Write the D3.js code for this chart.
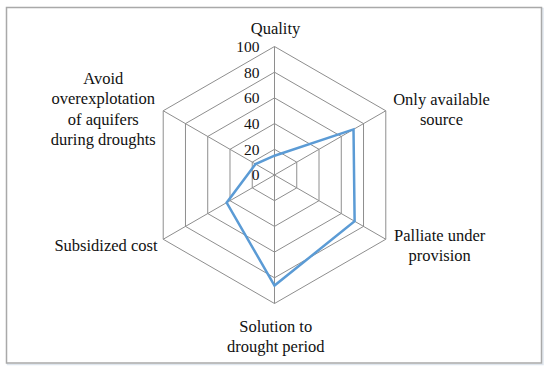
<!DOCTYPE html>
<html>
<head>
<meta charset="utf-8">
<script src="https://cdn.jsdelivr.net/npm/d3@7"></script>
<style>
  html, body { margin: 0; padding: 0; background: #fff; }
  svg { display: block; }
</style>
</head>
<body>
<svg id="chart" width="550" height="373"></svg>
<script>
const categories = [
  ["Quality"],
  ["Only available", "source"],
  ["Palliate under", "provision"],
  ["Solution to", "drought period"],
  ["Subsidized cost"],
  ["Avoid", "overexplotation", "of aquifers", "during droughts"]
];
const values = [15, 71, 72, 86, 43, 17];
const tickValues = [0, 20, 40, 60, 80, 100];

const W = 550, H = 373;
const cx = 274.5, cy = 175, R = 128.5;
const svg = d3.select("#chart");

// frame
svg.append("rect").attr("x", 7.5).attr("y", 8.5).attr("width", 535.5).attr("height", 356)
  .attr("fill", "none").attr("stroke", "#dfe6ee").attr("stroke-width", 1.5);
svg.append("rect").attr("x", 6.5).attr("y", 7.5).attr("width", 535).attr("height", 355.5)
  .attr("fill", "#fff").attr("stroke", "#a9a9a9").attr("stroke-width", 1.5);

const r = d3.scaleLinear().domain([0, 100]).range([0, R]);
const n = categories.length;
const angle = d3.scaleLinear().domain([0, n]).range([0, 2 * Math.PI]);
const pt = (i, v) => [cx + r(v) * Math.sin(angle(i)), cy - r(v) * Math.cos(angle(i))];

const g = svg.append("g");

// rings
tickValues.filter(t => t > 0).forEach(t => {
  g.append("path")
    .attr("d", d3.line()(d3.range(n).map(i => pt(i, t))) + "Z")
    .attr("fill", "none").attr("stroke", "#8e8e8e").attr("stroke-width", 1);
});
// spokes
d3.range(n).forEach(i => {
  const [x, y] = pt(i, 100);
  g.append("line").attr("x1", cx).attr("y1", cy).attr("x2", x).attr("y2", y)
    .attr("stroke", "#8e8e8e").attr("stroke-width", 1);
});

// tick labels
g.selectAll("text.tick").data(tickValues).join("text")
  .attr("class", "tick")
  .attr("x", cx - 15)
  .attr("y", d => cy - r(d))
  .attr("dy", "0.35em")
  .attr("text-anchor", "end")
  .attr("font-family", "Liberation Serif, serif")
  .attr("font-size", 15.5)
  .attr("fill", "#111")
  .text(d => d);

// data polygon
g.append("path")
  .attr("d", d3.line()(values.map((v, i) => pt(i, v))) + "Z")
  .attr("fill", "none").attr("stroke", "#5b9bd5").attr("stroke-width", 2.5)
  .attr("stroke-linejoin", "miter");

// category labels
const labelPos = [
  [275.5, 28.7],
  [441.5, 99],
  [439.7, 235.5],
  [275.7, 326],
  [106, 245.6],
  [103.3, 78.4]
];
const lineH = 20.2;
categories.forEach((lines, i) => {
  const t = g.append("text")
    .attr("text-anchor", "middle")
    .attr("font-family", "Liberation Serif, serif")
    .attr("font-size", 16.5)
    .attr("fill", "#111");
  lines.forEach((s, k) => {
    t.append("tspan").attr("x", labelPos[i][0]).attr("y", labelPos[i][1] + k * lineH)
      .attr("dy", "0.35em").text(s);
  });
});
</script>
</body>
</html>
